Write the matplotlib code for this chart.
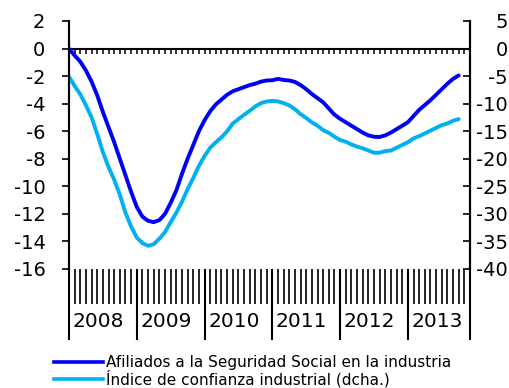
import numpy as np
import matplotlib
matplotlib.use("Agg")
import matplotlib.pyplot as plt
from matplotlib.lines import Line2D

plt.rcParams["font.family"] = "DejaVu Sans"
plt.rcParams["axes.unicode_minus"] = False

# monthly series, Jan 2008 - Oct 2013
afiliados = [
    0.0, -0.5, -0.95, -1.6, -2.4, -3.4, -4.6, -5.7, -6.8, -8.0,
    -9.2, -10.4, -11.5, -12.2, -12.5, -12.6, -12.45, -12.0, -11.2, -10.3,
    -9.1, -8.0, -7.0, -6.0, -5.2, -4.55, -4.05, -3.7, -3.35, -3.1,
    -2.95, -2.8, -2.65, -2.55, -2.4, -2.32, -2.3, -2.2, -2.28, -2.32,
    -2.42, -2.65, -2.95, -3.3, -3.6, -3.9, -4.35, -4.8, -5.1, -5.35,
    -5.6, -5.85, -6.1, -6.3, -6.4, -6.42, -6.3, -6.1, -5.85, -5.6,
    -5.35, -4.9, -4.45, -4.1, -3.75, -3.35, -2.95, -2.55, -2.2, -1.95,
]
confianza = [
    -5.1, -6.8, -8.3, -10.3, -12.5, -15.5, -18.8, -21.5, -23.8, -26.5,
    -29.8, -32.3, -34.3, -35.3, -35.8, -35.5, -34.5, -33.3, -31.5, -29.8,
    -27.8, -25.5, -23.5, -21.3, -19.5, -18.0, -17.0, -16.1, -15.0, -13.6,
    -12.8, -12.0, -11.3, -10.5, -9.9, -9.6, -9.5, -9.6, -9.9, -10.3,
    -11.0, -11.9, -12.6, -13.4, -14.0, -14.8, -15.3, -16.0, -16.6, -16.9,
    -17.4, -17.8, -18.1, -18.5, -18.9, -18.9, -18.6, -18.5, -18.0, -17.5,
    -17.0, -16.3, -15.9, -15.4, -14.9, -14.4, -13.9, -13.6, -13.1, -12.8,
]
years = ["2008", "2009", "2010", "2011", "2012", "2013"]
labels = ["Afiliados a la Seguridad Social en la industria",
          "Índice de confianza industrial (dcha.)"]

c_blue = "#0000F5"
c_light = "#00B0F0"

x = np.arange(len(afiliados))
n_months = 12 * len(years)

fig = plt.figure(figsize=(5.10, 3.88), dpi=100)
ax = fig.add_axes([69 / 510, 1 - 269 / 388, 401 / 510, 248 / 388])
ax2 = ax.twinx()

ax.plot(x, afiliados, color=c_blue, lw=2.8, solid_capstyle="round")
ax2.plot(x, confianza, color=c_light, lw=2.8, solid_capstyle="round")

ax.set_xlim(0, n_months - 1)
ax.set_ylim(-16, 2)
ax2.set_ylim(-40, 5)
ax.set_yticks(np.arange(-16, 3, 2))
ax2.set_yticks(np.arange(-40, 6, 5))

# zero line with small monthly ticks
ax.axhline(0, color="black", lw=1.5, zorder=1)
ax.vlines(np.arange(1, n_months - 1), -0.38, 0, color="black", lw=1.1, zorder=1)

for a in (ax, ax2):
    a.spines["top"].set_visible(False)
    a.spines["bottom"].set_visible(False)
    a.spines["left"].set_linewidth(1.5)
    a.spines["right"].set_linewidth(1.5)

ax.tick_params(axis="y", direction="out", length=5, width=1.2, pad=12,
               labelsize=14)
ax2.tick_params(axis="y", direction="in", length=5, width=1.2, pad=27,
                labelsize=14)
for t in ax2.get_yticklabels():
    t.set_horizontalalignment("right")

# month ticks below the plot, year separators reaching further down
seps = list(range(0, n_months, 12)) + [n_months - 1]
ax.set_xticks(seps)
ax.set_xticks(np.arange(1, n_months - 1), minor=True)
ax.tick_params(axis="x", which="major", direction="out", length=51,
               width=1.5, labelbottom=False)
ax.tick_params(axis="x", which="minor", direction="out", length=25,
               width=1.2)

for i, yr in enumerate(years):
    ax.annotate(yr, xy=(seps[i], 0), xycoords=("data", "axes fraction"),
                xytext=(2.5, -38), textcoords="offset points",
                ha="left", va="center", fontsize=14.5)

handles = [Line2D([], [], color=c_blue, lw=2.6),
           Line2D([], [], color=c_light, lw=2.6)]
fig.legend(handles, labels, loc="upper left", bbox_to_anchor=(54 / 510, 1 - 355 / 388),
           frameon=False, fontsize=11, handlelength=3.2, handletextpad=0.2,
           labelspacing=0.0, borderpad=0, borderaxespad=0)

fig.savefig("out.png", dpi=100)
